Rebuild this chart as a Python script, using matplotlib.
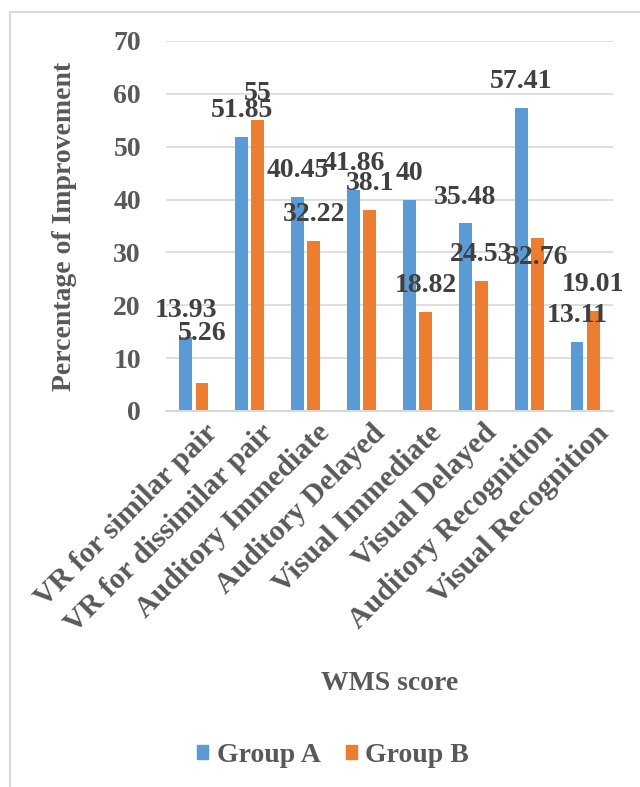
import matplotlib
matplotlib.use("Agg")
import matplotlib.pyplot as plt
import matplotlib.transforms as mtransforms
import numpy as np
from matplotlib.patches import Patch
from matplotlib.lines import Line2D

categories = ["VR for similar pair", "VR for dissimilar pair", "Auditory Immediate",
              "Auditory Delayed", "Visual Immediate", "Visual Delayed",
              "Auditory Recognition", "Visual Recognition"]
group_a = [13.93, 51.85, 40.45, 41.86, 40, 35.48, 57.41, 13.11]
group_b = [5.26, 55, 32.22, 38.1, 18.82, 24.53, 32.76, 19.01]
a_labels = ["13.93", "51.85", "40.45", "41.86", "40", "35.48", "57.41", "13.11"]
b_labels = ["5.26", "55", "32.22", "38.1", "18.82", "24.53", "32.76", "19.01"]

BLUE = "#5B9BD5"
ORANGE = "#ED7D31"
GRID = "#D9D9D9"
TICK = "#595959"
LABEL = "#404040"

plt.rcParams['font.family'] = ['Liberation Serif', 'DejaVu Serif']
plt.rcParams['font.weight'] = 'bold'

fig = plt.figure(figsize=(6.4, 7.87), dpi=100)
ax = fig.add_axes([166/640, 1 - 411/787, 447/640, 370/787])

x = np.arange(len(categories))
w = 0.23
off = 0.145
ax.bar(x - off, group_a, w, color=BLUE, label="Group A", zorder=2)
ax.bar(x + off, group_b, w, color=ORANGE, label="Group B", zorder=2)

# data labels, Excel moved a couple of them
nudge_b = {0: 17, 6: -33}
for i, (v, t) in enumerate(zip(group_a, a_labels)):
    ax.annotate(t, (x[i] - off, v), xytext=(0, 19), textcoords='offset points',
                ha='center', va='center', fontsize=20, fontweight='bold', color=LABEL, zorder=3)
for i, (v, t) in enumerate(zip(group_b, b_labels)):
    ax.annotate(t, (x[i] + off, v), xytext=(0, 19 + nudge_b.get(i, 0)), textcoords='offset points',
                ha='center', va='center', fontsize=20, fontweight='bold', color=LABEL, zorder=3)

ax.set_xlim(-0.5, len(categories) - 0.5)
ax.set_ylim(0, 70)
ax.set_yticks(range(0, 71, 10))
ax.yaxis.grid(True, color=GRID, lw=1.2, zorder=0)
ax.set_axisbelow(True)
for s in ["top", "right", "left"]:
    ax.spines[s].set_visible(False)
ax.spines["bottom"].set_color(GRID)
ax.spines["bottom"].set_linewidth(1.5)
ax.tick_params(length=0)
ax.tick_params(axis='y', pad=18, labelsize=20, labelcolor=TICK)
ax.set_xticks(x)
ax.set_xticklabels(categories, rotation=45, ha='right', va='top', rotation_mode='anchor',
                   fontsize=21.5, color=TICK)
ax.tick_params(axis='x', pad=6)
shift = mtransforms.ScaledTranslation(10/100, 0, fig.dpi_scale_trans)
for lab in ax.get_xticklabels():
    lab.set_transform(lab.get_transform() + shift)

ax.set_ylabel("Percentage of Improvement", fontsize=20, color=TICK, fontweight='bold')
ax.yaxis.set_label_coords(-0.20, 0.5)

fig.text(390/640, 1 - 683/787, "WMS score", ha='center', va='center',
         fontsize=20, color=TICK, fontweight='bold')

handles = [Patch(color=BLUE, label="Group A"), Patch(color=ORANGE, label="Group B")]
leg = fig.legend(handles=handles, loc='center', bbox_to_anchor=(333/640, 1 - 755/787), ncol=2,
                 frameon=False, fontsize=20, handlelength=0.4, handleheight=0.4,
                 handletextpad=0.3, columnspacing=0.9)
for t in leg.get_texts():
    t.set_color(TICK)

# outer chart border (cropped on right and bottom)
fig.add_artist(Line2D([10/640, 10/640, 1.0], [0.0, 1 - 12/787, 1 - 12/787],
                      transform=fig.transFigure, color=GRID, lw=1.5))

fig.savefig("out.png", dpi=100)
